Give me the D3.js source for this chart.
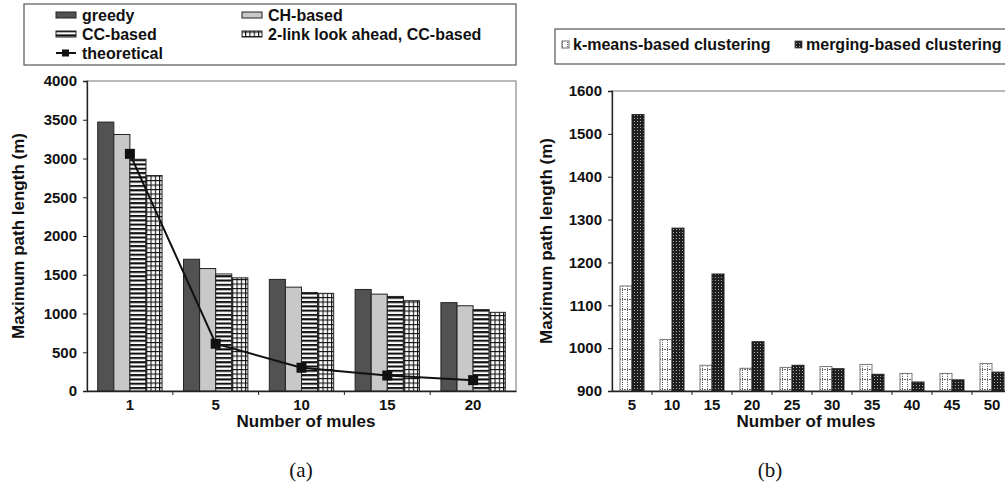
<!DOCTYPE html>
<html>
<head>
<meta charset="utf-8">
<script src="https://cdn.jsdelivr.net/npm/d3@7"></script>
<style>
  body { margin: 0; background: #fff; }
  svg text { font-family: "Liberation Sans", Arial, sans-serif; font-weight: bold; fill: #111; }
</style>
</head>
<body>
<svg id="chart" width="1005" height="488"></svg>
<script>
// data, chart (a)
const mulesA  = ["1", "5", "10", "15", "20"];
const seriesA = ["greedy", "CH-based", "CC-based", "2-link look ahead, CC-based"];
const greedy  = [3470, 1700, 1440, 1310, 1140];
const chBased = [3310, 1580, 1340, 1250, 1100];
const ccBased = [2990, 1510, 1270, 1220, 1050];
const twoLink = [2780, 1460, 1260, 1165, 1015];
const theoretical = [3060, 610, 300, 200, 140];
const ticksA  = [0, 500, 1000, 1500, 2000, 2500, 3000, 3500, 4000];

// data, chart (b)
const mulesB  = ["5", "10", "15", "20", "25", "30", "35", "40", "45", "50"];
const seriesB = ["k-means-based clustering", "merging-based clustering"];
const kmeans  = [1145, 1020, 960, 953, 955, 957, 962, 941, 941, 964];
const merging = [1545, 1280, 1173, 1015, 960, 952, 939, 921, 926, 944];
const ticksB  = [900, 1000, 1100, 1200, 1300, 1400, 1500, 1600];

const svg = d3.select("#chart");
const defs = svg.append("defs");

// fill patterns
const hs = defs.append("pattern").attr("id", "hstripe")
  .attr("patternUnits", "userSpaceOnUse").attr("width", 4).attr("height", 4.3);
hs.append("rect").attr("width", 4).attr("height", 4.3).attr("fill", "#fff");
hs.append("rect").attr("width", 4).attr("height", 2.1).attr("fill", "#111");

const gr = defs.append("pattern").attr("id", "grid")
  .attr("patternUnits", "userSpaceOnUse").attr("width", 4.3).attr("height", 4.5);
gr.append("rect").attr("width", 4.3).attr("height", 4.5).attr("fill", "#fff");
gr.append("rect").attr("width", 1.1).attr("height", 4.5).attr("fill", "#111");
gr.append("rect").attr("width", 4.3).attr("height", 1.1).attr("fill", "#111");

const km = defs.append("pattern").attr("id", "kmeans")
  .attr("patternUnits", "userSpaceOnUse").attr("width", 5).attr("height", 10);
km.append("rect").attr("width", 5).attr("height", 10).attr("fill", "#fff");
[0, 2, 4, 6, 8].forEach(function(y) {
  km.append("rect").attr("x", 2).attr("y", y).attr("width", 1).attr("height", 1).attr("fill", "#666");
});
[0, 2, 4].forEach(function(x) {
  km.append("rect").attr("x", x).attr("y", 9).attr("width", 1).attr("height", 1).attr("fill", "#666");
});

const mg = defs.append("pattern").attr("id", "merging")
  .attr("patternUnits", "userSpaceOnUse").attr("width", 3).attr("height", 3);
mg.append("rect").attr("width", 3).attr("height", 3).attr("fill", "#1e1e1e");
mg.append("rect").attr("x", 1).attr("y", 1).attr("width", 1).attr("height", 1).attr("fill", "#aaa");

const fillsA = ["#525252", "#c8c8c8", "url(#hstripe)", "url(#grid)"];
const fillsB = ["url(#kmeans)", "url(#merging)"];

// ---------- chart (a) ----------
const xA = d3.scaleBand().domain(mulesA).range([87, 516]).paddingInner(0.25).paddingOuter(0.125);
const xAin = d3.scaleBand().domain(seriesA).range([0, xA.bandwidth()]);
const yA = d3.scaleLinear().domain([0, 4000]).range([391, 81]);

svg.append("rect").attr("x", 87).attr("y", 81).attr("width", 429).attr("height", 310)
  .attr("fill", "none").attr("stroke", "#8a8a8a").attr("stroke-width", 1.2);

const valsA = [greedy, chBased, ccBased, twoLink];
const gA = svg.append("g");
mulesA.forEach(function(m, i) {
  seriesA.forEach(function(s, j) {
    gA.append("rect")
      .attr("x", xA(m) + xAin(s))
      .attr("y", yA(valsA[j][i]))
      .attr("width", xAin.bandwidth())
      .attr("height", yA(0) - yA(valsA[j][i]))
      .attr("fill", fillsA[j])
      .attr("stroke", "#222")
      .attr("stroke-width", 1);
  });
});

const line = d3.line()
  .x(function(d, i) { return xA(mulesA[i]) + xA.bandwidth() / 2; })
  .y(function(d) { return yA(d); });
svg.append("path").datum(theoretical).attr("d", line)
  .attr("fill", "none").attr("stroke", "#111").attr("stroke-width", 2);
svg.selectAll(".mk").data(theoretical).enter().append("rect")
  .attr("x", function(d, i) { return xA(mulesA[i]) + xA.bandwidth() / 2 - 5; })
  .attr("y", function(d) { return yA(d) - 5; })
  .attr("width", 10).attr("height", 10).attr("fill", "#111");

// axes (a)
svg.append("g").attr("transform", "translate(87,0)")
  .call(d3.axisLeft(yA).tickValues(ticksA).tickFormat(d3.format("d")).tickSize(4).tickPadding(6));
const xAxA = svg.append("g").attr("transform", "translate(0,391)")
  .call(d3.axisBottom(xA).tickSize(0).tickPadding(8));
xAxA.selectAll(".tickmark").data(d3.range(1, mulesA.length)).enter().append("line")
  .attr("x1", function(d) { return 87 + d * xA.step(); })
  .attr("x2", function(d) { return 87 + d * xA.step(); })
  .attr("y1", 0).attr("y2", 4).attr("stroke", "#222");

// ---------- chart (b) ----------
const xB = d3.scaleBand().domain(mulesB).range([612, 1012]).paddingInner(0.4).paddingOuter(0.2);
const xBin = d3.scaleBand().domain(seriesB).range([0, xB.bandwidth()]);
const yB = d3.scaleLinear().domain([900, 1600]).range([391, 91]);

svg.append("rect").attr("x", 612).attr("y", 91).attr("width", 400).attr("height", 300)
  .attr("fill", "none").attr("stroke", "#8a8a8a").attr("stroke-width", 1.2);

const valsB = [kmeans, merging];
mulesB.forEach(function(m, i) {
  seriesB.forEach(function(s, j) {
    svg.append("rect")
      .attr("x", xB(m) + xBin(s))
      .attr("y", yB(valsB[j][i]))
      .attr("width", xBin.bandwidth())
      .attr("height", yB(900) - yB(valsB[j][i]))
      .attr("fill", fillsB[j])
      .attr("stroke", j == 0 ? "#777" : "#222")
      .attr("stroke-width", 1);
  });
});

svg.append("g").attr("transform", "translate(612,0)")
  .call(d3.axisLeft(yB).tickValues(ticksB).tickFormat(d3.format("d")).tickSize(4).tickPadding(6));
const xAxB = svg.append("g").attr("transform", "translate(0,391)")
  .call(d3.axisBottom(xB).tickSize(0).tickPadding(8));
xAxB.selectAll(".tickmark").data(d3.range(1, mulesB.length)).enter().append("line")
  .attr("x1", function(d) { return 612 + d * xB.step(); })
  .attr("x2", function(d) { return 612 + d * xB.step(); })
  .attr("y1", 0).attr("y2", 4).attr("stroke", "#222");

// axis styling
svg.selectAll(".domain").attr("stroke", "#222").attr("stroke-width", 1.3);
svg.selectAll(".tick line").attr("stroke", "#222");
svg.selectAll(".tick text").style("font-size", "15px").style("font-family", "'Liberation Sans', Arial, sans-serif")
  .style("font-weight", "bold").attr("fill", "#111");

// axis titles
function axTitles(cx, cy, tx, ty) {
  svg.append("text").attr("x", cx).attr("y", cy).attr("text-anchor", "middle")
    .style("font-size", "17px").text("Number of mules");
  svg.append("text").attr("transform", "translate(" + tx + "," + ty + ") rotate(-90)")
    .attr("text-anchor", "middle").style("font-size", "17px").text("Maximum path length (m)");
}
axTitles(306, 427, 24, 236);
axTitles(806, 427, 552, 241);

// sub captions
svg.append("text").attr("x", 301).attr("y", 477).attr("text-anchor", "middle")
  .style("font-family", "'Liberation Serif', 'Times New Roman', serif").style("font-weight", "normal")
  .style("font-size", "21px").text("(a)");
svg.append("text").attr("x", 770).attr("y", 477).attr("text-anchor", "middle")
  .style("font-family", "'Liberation Serif', 'Times New Roman', serif").style("font-weight", "normal")
  .style("font-size", "21px").text("(b)");

// ---------- legend (a) ----------
svg.append("rect").attr("x", 24).attr("y", 4).attr("width", 492).attr("height", 61)
  .attr("fill", "none").attr("stroke", "#555").attr("stroke-width", 1.2);
const legA = [
  {name: seriesA[0], fill: fillsA[0], x: 56, y: 15},
  {name: seriesA[1], fill: fillsA[1], x: 242, y: 15},
  {name: seriesA[2], fill: fillsA[2], x: 56, y: 34},
  {name: seriesA[3], fill: fillsA[3], x: 242, y: 34}
];
legA.forEach(function(d) {
  svg.append("rect").attr("x", d.x).attr("y", d.y - 3).attr("width", 20).attr("height", 6)
    .attr("fill", d.fill).attr("stroke", "#222").attr("stroke-width", 1);
  svg.append("text").attr("x", d.x + 26).attr("y", d.y + 5.5).style("font-size", "16px").text(d.name);
});
svg.append("line").attr("x1", 56).attr("x2", 76).attr("y1", 53).attr("y2", 53)
  .attr("stroke", "#111").attr("stroke-width", 2);
svg.append("rect").attr("x", 62).attr("y", 49.5).attr("width", 7).attr("height", 7).attr("fill", "#111");
svg.append("text").attr("x", 82).attr("y", 58.5).style("font-size", "16px").text("theoretical");

// ---------- legend (b) ----------
svg.append("rect").attr("x", 555).attr("y", 29).attr("width", 470).attr("height", 35)
  .attr("fill", "none").attr("stroke", "#555").attr("stroke-width", 1.2);
const legB = [
  {name: seriesB[0], fill: fillsB[0], x: 562},
  {name: seriesB[1], fill: fillsB[1], x: 795}
];
legB.forEach(function(d) {
  svg.append("rect").attr("x", d.x).attr("y", 41).attr("width", 7).attr("height", 7)
    .attr("fill", d.fill).attr("stroke", "#444").attr("stroke-width", 0.8);
  svg.append("text").attr("x", d.x + 11).attr("y", 50).style("font-size", "16px").text(d.name);
});
</script>
</body>
</html>
